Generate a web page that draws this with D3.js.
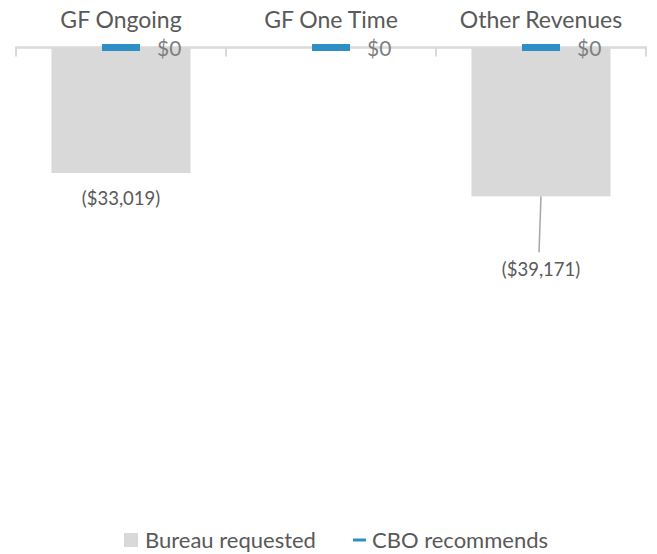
<!DOCTYPE html>
<html>
<head>
<meta charset="utf-8">
<script src="https://cdn.jsdelivr.net/npm/d3@7"></script>
<style>
  html, body { margin: 0; padding: 0; background: #fff; }
  svg text { font-family: Lato, 'Open Sans', sans-serif; fill: #595959; }
</style>
</head>
<body>
<svg id="chart" width="657" height="554"></svg>
<script>
// data
const categories = ['GF Ongoing', 'GF One Time', 'Other Revenues'];
const bureauRequested = [-33019, 0, -39171];
const cboRecommends = [0, 0, 0];
const seriesNames = ['Bureau requested', 'CBO recommends'];

(function() {
    const svg = d3.select('#chart');
    const grey = '#d9d9d9';
    const blue = '#2e8fc6';

    const x = d3.scaleBand().domain(categories).range([16, 646]).paddingInner(0).paddingOuter(0);
    const y = d3.scaleLinear().domain([-100000, 0]).range([427.5, 47.5]);

    const fmt = v => v === 0 ? '$0' : (v < 0 ? '($' + d3.format(',')(-v) + ')' : '$' + d3.format(',')(v));

    // bars
    const barW = x.bandwidth() * 0.662;
    svg.append('g').selectAll('rect')
        .data(categories.map((c, i) => ({ c, v: bureauRequested[i] })))
        .join('rect')
        .attr('x', d => x(d.c) + x.bandwidth() / 2 - barW / 2)
        .attr('y', d => y(Math.max(0, d.v)))
        .attr('width', barW)
        .attr('height', d => Math.abs(y(d.v) - y(0)))
        .attr('fill', grey);

    // axis line + ticks (pointing down) at band edges
    const ax = svg.append('g');
    ax.append('line')
        .attr('x1', x.range()[0] - 1).attr('x2', x.range()[1] + 1)
        .attr('y1', y(0)).attr('y2', y(0))
        .attr('stroke', grey).attr('stroke-width', 2.5);
    const edges = categories.map(c => x(c)).concat([x.range()[1]]);
    ax.selectAll('line.tick')
        .data(edges)
        .join('line')
        .attr('class', 'tick')
        .attr('x1', d => d).attr('x2', d => d)
        .attr('y1', y(0)).attr('y2', y(0) + 9)
        .attr('stroke', grey).attr('stroke-width', 2);

    // category labels on top
    svg.append('g').selectAll('text')
        .data(categories)
        .join('text')
        .attr('x', d => x(d) + x.bandwidth() / 2)
        .attr('y', 28)
        .attr('text-anchor', 'middle')
        .style('font-size', '23px')
        .text(d => d);

    // CBO recommends markers
    svg.append('g').selectAll('line')
        .data(categories.map((c, i) => ({ c, v: cboRecommends[i] })))
        .join('line')
        .attr('x1', d => x(d.c) + x.bandwidth() / 2 - 19)
        .attr('x2', d => x(d.c) + x.bandwidth() / 2 + 19)
        .attr('y1', d => y(d.v)).attr('y2', d => y(d.v))
        .attr('stroke', blue).attr('stroke-width', 7);

    svg.append('g').selectAll('text')
        .data(categories.map((c, i) => ({ c, v: cboRecommends[i] })))
        .join('text')
        .attr('x', d => x(d.c) + x.bandwidth() / 2 + 36)
        .attr('y', d => y(d.v) + 8)
        .style('font-size', '21px')
        .style('fill', '#7f7f7f')
        .text(d => fmt(d.v));

    // bureau data labels
    const labelOffset = [26, 0, 74];
    const lbl = svg.append('g');
    categories.forEach((c, i) => {
        const v = bureauRequested[i];
        if (v === 0) return;
        const cx = x(c) + x.bandwidth() / 2;
        const ly = y(v) + labelOffset[i];
        if (labelOffset[i] > 40) {
            lbl.append('line')
                .attr('x1', cx).attr('y1', y(v))
                .attr('x2', cx - 2).attr('y2', ly - 18)
                .attr('stroke', '#a6a6a6').attr('stroke-width', 1.5);
        }
        lbl.append('text')
            .attr('x', cx).attr('y', ly + 6)
            .attr('text-anchor', 'middle')
            .style('font-size', '18.5px')
            .text(fmt(v));
    });

    // legend
    const lg = svg.append('g');
    lg.append('rect').attr('x', 124).attr('y', 533).attr('width', 14).attr('height', 14).attr('fill', grey);
    lg.append('text').attr('x', 145).attr('y', 548).style('font-size', '22px').text(seriesNames[0]);
    lg.append('line').attr('x1', 353).attr('x2', 366).attr('y1', 540).attr('y2', 540)
        .attr('stroke', blue).attr('stroke-width', 3);
    lg.append('text').attr('x', 372).attr('y', 548).style('font-size', '22px').text(seriesNames[1]);
})();
</script>
</body>
</html>
